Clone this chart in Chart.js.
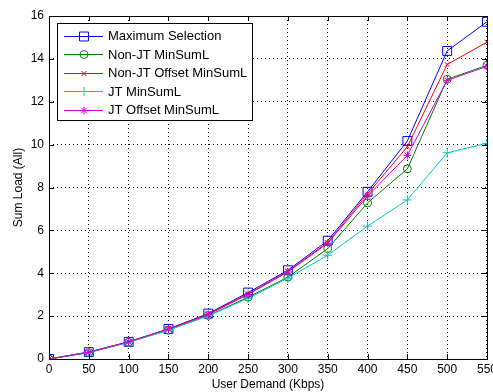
<!DOCTYPE html>
<html>
<head>
<meta charset="utf-8">
<script src="https://cdn.jsdelivr.net/npm/chart.js@4/dist/chart.umd.min.js"></script>
<style>
  html, body { margin: 0; padding: 0; background: #fff; }
  #wrap { width: 493px; height: 392px; overflow: hidden; position: relative; }
  #box { position: absolute; left: 0; top: 0; width: 500px; height: 400px; }
</style>
</head>
<body>
<div id="wrap"><div id="box"><canvas id="chartLoad"></canvas></div></div>
<script>
// user demand (Kbps)
const demand = [0, 50, 100, 150, 200, 250, 300, 350, 400, 450, 500, 550];

// sum load per method
const maxSelection   = [0, 0.32, 0.80, 1.40, 2.12, 3.10, 4.14, 5.52, 7.80, 10.17, 14.37, 15.73];
const nonJtMinSum    = [0, 0.30, 0.78, 1.35, 2.03, 2.88, 3.82, 5.15, 7.28, 8.87, 13.05, 13.70];
const nonJtOffset    = [0, 0.32, 0.80, 1.40, 2.09, 3.04, 4.09, 5.44, 7.70, 9.90, 13.74, 14.78];
const jtMinSum       = [0, 0.30, 0.78, 1.35, 2.01, 2.83, 3.77, 4.84, 6.20, 7.42, 9.62, 10.06];
const jtOffset       = [0, 0.32, 0.80, 1.40, 2.08, 3.01, 4.06, 5.40, 7.60, 9.50, 13.00, 13.65];

const seriesNames = ['Maximum Selection', 'Non-JT MinSumL', 'Non-JT Offset MinSumL', 'JT MinSumL', 'JT Offset MinSumL'];
const seriesData = [maxSelection, nonJtMinSum, nonJtOffset, jtMinSum, jtOffset];
const colors = ['#0000ff', '#008000', '#ff0000', '#00c8c8', '#cc00cc'];
const markers = ['rect', 'circle', 'crossRot', 'cross', 'star'];
const markerSize = [6.3, 4, 3.5, 4.5, 4];

const yTicks = [0, 2, 4, 6, 8, 10, 12, 14, 16];

const fontFam = "'Liberation Sans', Arial, sans-serif";

// moldura, marcas internas e legenda no estilo MATLAB
const matlabFrame = {
  id: 'matlabFrame',
  afterDraw(chart) {
    const { ctx, chartArea: a, scales } = chart;
    ctx.save();
    ctx.strokeStyle = '#000';
    ctx.lineWidth = 1;
    ctx.setLineDash([]);
    ctx.beginPath();
    scales.x.ticks.forEach(t => {
      const px = Math.round(scales.x.getPixelForValue(t.value)) + 0.5;
      ctx.moveTo(px, a.bottom); ctx.lineTo(px, a.bottom - 5);
      ctx.moveTo(px, a.top); ctx.lineTo(px, a.top + 5);
    });
    scales.y.ticks.forEach(t => {
      const py = Math.round(scales.y.getPixelForValue(t.value)) + 0.5;
      ctx.moveTo(a.left, py); ctx.lineTo(a.left + 5, py);
      ctx.moveTo(a.right, py); ctx.lineTo(a.right - 5, py);
    });
    ctx.stroke();
    ctx.strokeRect(Math.round(a.left) + 0.5, Math.round(a.top) + 0.5,
      Math.round(a.right - a.left), Math.round(a.bottom - a.top));

    // legenda
    const lx = 57, ly = 23, lw = 195, lh = 97;
    ctx.fillStyle = '#fff';
    ctx.fillRect(lx, ly, lw, lh);
    ctx.strokeRect(lx + 0.5, ly + 0.5, lw, lh);
    ctx.font = '13px ' + fontFam;
    ctx.textBaseline = 'middle';
    seriesNames.forEach((name, i) => {
      const y = ly + 12.5 + i * 18.6;
      ctx.strokeStyle = colors[i];
      ctx.beginPath();
      ctx.moveTo(64, Math.round(y) + 0.5); ctx.lineTo(103, Math.round(y) + 0.5);
      ctx.stroke();
      ctx.fillStyle = 'rgba(0,0,0,0)';
      Chart.helpers.drawPoint(ctx, { pointStyle: markers[i], radius: markerSize[i], borderWidth: 1, rotation: 0 }, 84, Math.round(y) + 0.5);
      ctx.fillStyle = '#000';
      ctx.fillText(name, 108, y + 1);
    });
    ctx.restore();
  }
};

const ctx = document.getElementById('chartLoad').getContext('2d');
new Chart(ctx, {
  type: 'line',
  data: {
    datasets: seriesNames.map((name, i) => ({
      label: name,
      data: demand.map((d, k) => ({ x: d, y: seriesData[i][k] })),
      borderColor: colors[i],
      backgroundColor: 'transparent',
      borderWidth: 1,
      pointStyle: markers[i],
      pointRadius: markerSize[i],
      pointBorderWidth: 1,
      pointBorderColor: colors[i],
      pointBackgroundColor: 'transparent',
      tension: 0,
      fill: false,
      order: seriesNames.length - i
    }))
  },
  options: {
    responsive: true,
    maintainAspectRatio: false,
    animation: false,
    layout: { padding: { left: 0, right: 12, top: 16, bottom: 0 } },
    plugins: { legend: { display: false }, tooltip: { enabled: false } },
    scales: {
      x: {
        type: 'linear',
        min: 0, max: 550,
        afterBuildTicks: s => { s.ticks = demand.map(v => ({ value: v })); },
        afterFit: s => { s.height = 41; },
        ticks: { color: '#000', padding: 3, maxRotation: 0, font: { family: fontFam, size: 12 } },
        grid: { color: '#000', lineWidth: 1, drawTicks: false },
        border: { display: false, dash: [1, 3] },
        title: { display: true, text: 'User Demand (Kbps)', color: '#000', padding: { top: 0, bottom: 8 }, font: { family: fontFam, size: 12 } }
      },
      y: {
        min: 0, max: 16,
        afterBuildTicks: s => { s.ticks = yTicks.map(v => ({ value: v })); },
        afterFit: s => { s.width = 49; },
        ticks: { color: '#000', padding: 5, font: { family: fontFam, size: 12 } },
        grid: { color: '#000', lineWidth: 1, drawTicks: false },
        border: { display: false, dash: [1, 3] },
        title: { display: true, text: 'Sum Load (All)', color: '#000', padding: { top: 11, bottom: 0 }, font: { family: fontFam, size: 12 } }
      }
    }
  },
  plugins: [matlabFrame]
});
</script>
</body>
</html>
